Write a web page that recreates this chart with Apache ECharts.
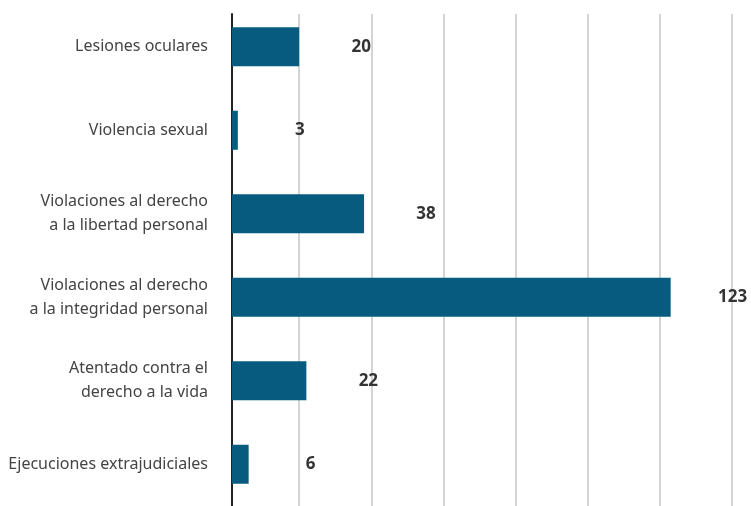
<!DOCTYPE html>
<html><head><meta charset="utf-8">
<script src="https://cdn.jsdelivr.net/npm/echarts@6/dist/echarts.min.js"></script>
<style>html,body{margin:0;padding:0;background:#fff}#c{width:751px;height:506px}</style>
</head><body><div id="c"></div>
<script>
const categories = ["Lesiones oculares", "Violencia sexual", "Violaciones al derecho\na la libertad personal", "Violaciones al derecho\na la integridad personal", "Atentado contra el\nderecho a la vida", "Ejecuciones extrajudiciales"];
const values = [20, 3, 38, 123, 22, 6];
const axisMax = 140;
const axisStep = 20;

const chart = echarts.init(document.getElementById('c'));
const FONT = 'Noto Sans';
// grid 1 spans value 0..140 over x=227..732; grid 0 starts 5px later (at the drawn axis line)
const gridL = 227, gridR = 19, axisShift = 5;
const unitPx = (751 - gridL - gridR) / axisMax;
chart.setOption({
  animation: false,
  grid: [
    {left: gridL + axisShift, right: gridR, top: 5, bottom: -6},
    {left: gridL, right: gridR, top: 14, bottom: -6}
  ],
  xAxis: [
    {gridIndex: 0, type: 'value', min: axisShift / unitPx, max: axisMax, show: false},
    {gridIndex: 1, type: 'value', min: 0, max: axisMax, interval: axisStep,
     axisLine: {show: false}, axisTick: {show: false}, axisLabel: {show: false},
     splitLine: {show: true, showMinLine: false, lineStyle: {color: '#d4d4d4', width: 2}}}
  ],
  yAxis: [
    {gridIndex: 0, type: 'category', inverse: true, data: categories,
     axisLine: {show: false}, axisTick: {show: false},
     axisLabel: {margin: 24, color: '#444', fontFamily: FONT, fontSize: 16, lineHeight: 24, align: 'right'}},
    {gridIndex: 1, type: 'category', inverse: true, data: categories, offset: -axisShift,
     axisLine: {show: true, lineStyle: {color: '#222', width: 2}}, axisTick: {show: false},
     axisLabel: {show: false}, splitLine: {show: false}}
  ],
  series: [{
    type: 'bar', xAxisIndex: 0, yAxisIndex: 0, data: values, barWidth: 39, z: 3,
    itemStyle: {color: '#075b7f'},
    label: {show: true, position: 'right', distance: 62, align: 'center', color: '#333', fontFamily: FONT, fontSize: 17, fontWeight: 'bold'}
  }]
});
</script></body></html>
